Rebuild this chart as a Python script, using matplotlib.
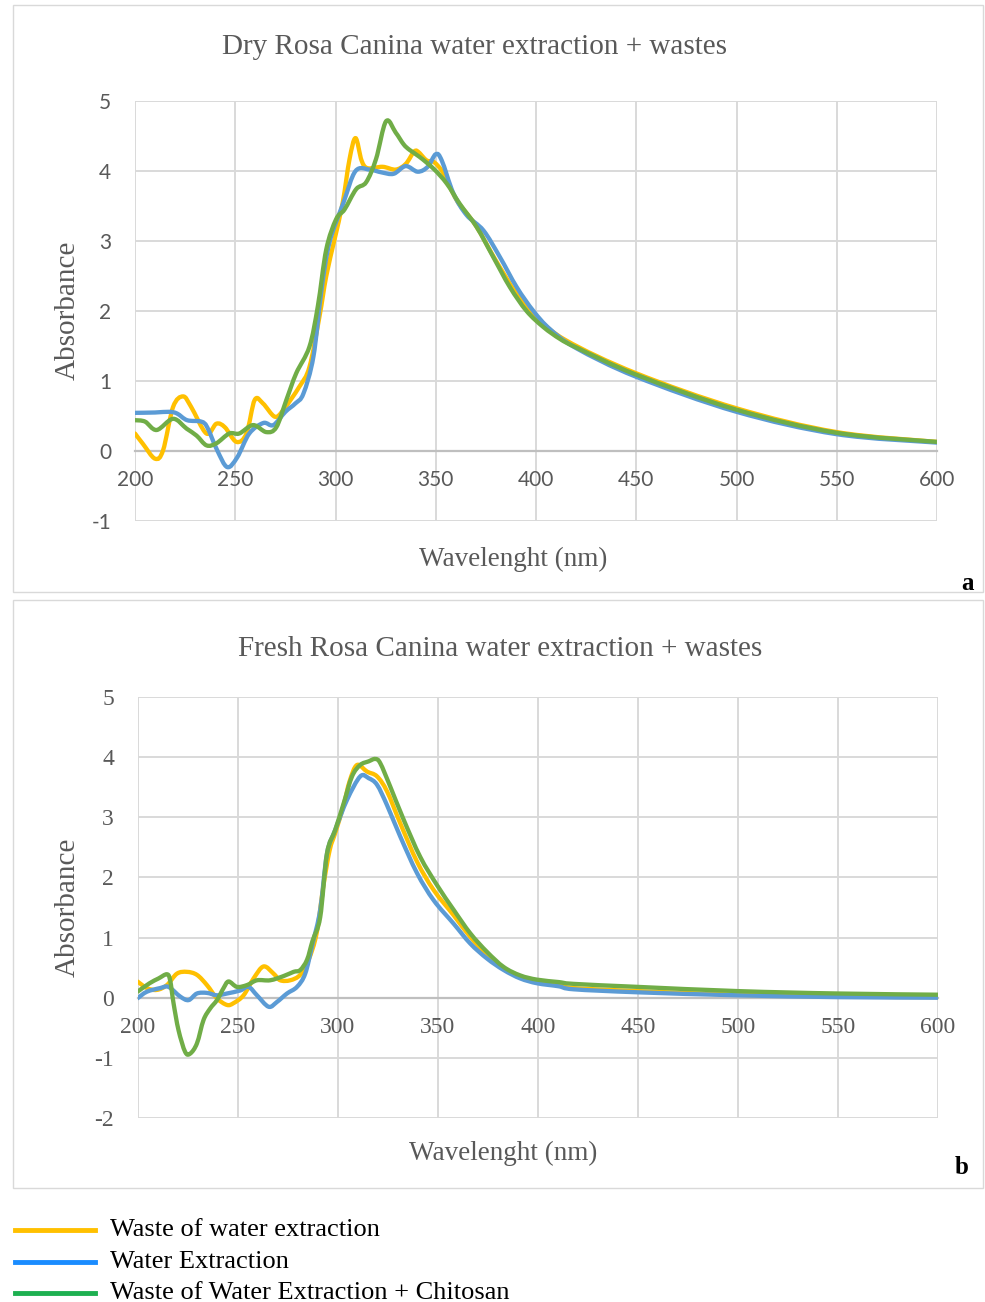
import matplotlib.pyplot as plt
import numpy as np
from matplotlib.patches import Rectangle, PathPatch
from matplotlib.path import Path

# UV-Vis absorbance spectra of Rosa Canina extractions
# (a) dry fruit, (b) fresh fruit

# --- dry Rosa Canina ---
dry_waste_wl = [200, 204, 210, 214, 219, 224, 228, 235.6, 240.6, 244.8, 250.6, 255.6,
                259.7, 263.8, 269.7, 273.8, 282, 287, 292, 295.4, 299.5, 303.6, 307,
                310, 313, 316, 323.5, 330, 335, 339, 341, 345.5, 349, 354, 360.5,
                370, 380, 390, 400, 415, 450, 500, 550, 600]
dry_waste_abs = [0.25, 0.10, -0.11, 0.01, 0.63, 0.78, 0.63, 0.25, 0.39, 0.34, 0.13, 0.25,
                 0.73, 0.68, 0.49, 0.58, 0.92, 1.20, 1.92, 2.50, 3.02, 3.55, 4.17,
                 4.47, 4.15, 4.04, 4.06, 4.02, 4.10, 4.27, 4.28, 4.15, 4.13, 3.96, 3.58,
                 3.22, 2.72, 2.26, 1.92, 1.58, 1.11, 0.61, 0.27, 0.13]

dry_water_wl = [200, 210, 217, 221, 226, 233, 236, 241, 246, 251, 257, 264, 269, 275,
                280, 284, 289, 293, 297, 304, 310, 317, 323, 329, 335, 341, 346, 350,
                353, 358.8, 365.4, 373.8, 382, 390.4, 398.7, 407, 420, 450, 500, 550, 600]
dry_water_abs = [0.545, 0.55, 0.56, 0.535, 0.44, 0.42, 0.34, 0.01, -0.23, -0.09, 0.25,
                 0.40, 0.37, 0.56, 0.68, 0.82, 1.35, 2.30, 2.98, 3.55, 4.00, 4.02, 3.98,
                 3.96, 4.07, 3.99, 4.06, 4.24, 4.15, 3.68, 3.37, 3.15, 2.77, 2.34, 2.00,
                 1.74, 1.47, 1.06, 0.56, 0.24, 0.12]

dry_chit_wl = [200, 205, 210.8, 219, 225.7, 230.7, 235.7, 240.6, 247, 252, 258.9, 265.5,
               270.5, 275.5, 280.4, 287, 291.2, 295.4, 300.3, 304.5, 310.3, 315.3, 320.2,
               325.2, 330, 334, 337, 342, 349, 355.5, 362, 370.4, 378.7, 387, 395.3,
               403.7, 412, 420, 450, 500, 550, 600]
dry_chit_abs = [0.44, 0.42, 0.30, 0.46, 0.32, 0.22, 0.08, 0.11, 0.25, 0.25, 0.37, 0.27,
                0.34, 0.73, 1.11, 1.49, 2.07, 2.88, 3.31, 3.45, 3.74, 3.84, 4.17,
                4.71, 4.55, 4.38, 4.30, 4.20, 4.03, 3.82, 3.53, 3.20, 2.77, 2.34, 2.00,
                1.77, 1.60, 1.48, 1.09, 0.59, 0.26, 0.13]

# --- fresh Rosa Canina ---
fresh_waste_wl = [200, 204.7, 209.7, 214.7, 219.7, 224.7, 229.7, 234.7, 239.7, 244.7, 248,
                  253, 258, 263, 268, 271.3, 276.3, 281.3, 285.5, 289.5, 292.8, 296, 299,
                  303, 306, 309.7, 314.7, 319.7, 324.7, 331.3, 339.7, 348, 358, 366.3,
                  374.7, 383, 391.3, 399.7, 410.5, 418, 450, 500, 550, 600]
fresh_waste_abs = [0.27, 0.16, 0.13, 0.21, 0.40, 0.43, 0.38, 0.21, -0.01, -0.12, -0.09,
                   0.04, 0.32, 0.52, 0.40, 0.29, 0.29, 0.38, 0.63, 1.07, 1.84, 2.45, 2.76,
                   3.20, 3.60, 3.87, 3.76, 3.68, 3.43, 2.90, 2.26, 1.79, 1.37, 1.01,
                   0.71, 0.48, 0.34, 0.26, 0.21, 0.16, 0.11, 0.05, 0.02, 0.01]

fresh_water_wl = [200, 204.7, 211.3, 215.5, 221.3, 225.5, 229.7, 234.7, 239.7, 244.7, 251.3,
                  255.5, 259.7, 265.5, 269.7, 274.7, 279.7, 283.8, 287.5, 291.3, 294.7,
                  298.8, 304.7, 311.3, 315.5, 319.7, 324.7, 331.3, 339.7, 348, 358, 366.3,
                  374.7, 383, 391.3, 399.7, 410.5, 418, 450, 500, 550, 600]
fresh_water_abs = [-0.01, 0.10, 0.16, 0.18, 0.02, -0.04, 0.07, 0.08, 0.04, 0.07, 0.12,
                   0.18, 0.04, -0.15, -0.07, 0.07, 0.18, 0.40, 0.90, 1.46, 2.40,
                   2.79, 3.29, 3.68, 3.65, 3.54, 3.20, 2.68, 2.07, 1.62, 1.23, 0.90,
                   0.65, 0.46, 0.32, 0.24, 0.19, 0.14, 0.09, 0.04, 0.01, 0.0]

fresh_chit_wl = [200, 206, 210.5, 214.7, 216.3, 218, 220.5, 223.8, 226.3, 229.7, 233, 236.3,
                 239.7, 243, 245.5, 249.7, 254.7, 259.7, 266.3, 273, 278, 281.3, 284.7,
                 287.5, 291.3, 294.7, 298.8, 303, 307.2, 311.3, 315.5, 318.8, 321.3, 326.3,
                 333, 341.3, 349.7, 358, 366.3, 374.7, 383, 391.3, 399.7, 410.5, 418, 450,
                 500, 550, 600]
fresh_chit_abs = [0.10, 0.24, 0.32, 0.39, 0.29, -0.09, -0.54, -0.90, -0.93, -0.76, -0.37,
                  -0.18, -0.04, 0.16, 0.27, 0.18, 0.21, 0.29, 0.29, 0.36, 0.43, 0.46, 0.63,
                  0.95, 1.34, 2.40, 2.79, 3.23, 3.68, 3.87, 3.93, 3.97, 3.90, 3.51,
                  2.96, 2.34, 1.87, 1.46, 1.07, 0.76, 0.51, 0.37, 0.30, 0.26, 0.23, 0.18,
                  0.11, 0.07, 0.05]

series_names = ['Waste of water extraction', 'Water Extraction',
                'Waste of Water Extraction + Chitosan']
line_colors = ['#FFC000', '#5B9BD5', '#70AD47']
legend_colors = ['#FFC000', '#1A8CFF', '#1DB050']

plt.rcParams['axes.unicode_minus'] = False
serif = 'Liberation Serif'
grey = '#595959'
W, H = 985, 1302

fig = plt.figure(figsize=(W / 100, H / 100), dpi=100)


def px_axes(x0, y_top, x1, y_bot):
    return fig.add_axes([x0 / W, 1 - y_bot / H, (x1 - x0) / W, (y_bot - y_top) / H])


def style_axes(ax, ymin, tick_font, tick_size):
    ax.set_xlim(200, 600)
    ax.set_ylim(ymin, 5)
    ax.set_xticks(range(200, 601, 50))
    ax.set_yticks(range(ymin, 6))
    ax.grid(True, color='#d9d9d9', linewidth=1.4)
    ax.set_axisbelow(True)
    for s in ['top', 'right', 'left']:
        ax.spines[s].set_visible(False)
    # category axis crosses at zero like the spreadsheet chart
    ax.spines['bottom'].set_position(('data', 0))
    ax.spines['bottom'].set_color('#bfbfbf')
    ax.spines['bottom'].set_linewidth(1.6)
    ax.spines['bottom'].set_zorder(1)
    ax.tick_params(length=0, labelcolor=grey, labelsize=tick_size)
    ax.tick_params(axis='x', pad=14)
    ax.tick_params(axis='y', pad=17)
    for lab in ax.get_xticklabels() + ax.get_yticklabels():
        lab.set_fontfamily(tick_font)


def smooth_path(x, y):
    # smoothed line: cubic Bezier segments through every measured point
    p = np.column_stack([x, y]).astype(float)
    ext = np.vstack([p[0], p, p[-1]])
    verts = [p[0]]
    codes = [Path.MOVETO]
    for i in range(len(p) - 1):
        c1 = ext[i + 1] + (ext[i + 2] - ext[i]) / 6
        c2 = ext[i + 2] - (ext[i + 3] - ext[i + 1]) / 6
        verts += [c1, c2, p[i + 1]]
        codes += [Path.CURVE4] * 3
    return Path(verts, codes)


def draw(ax, wls, vals):
    for wl, ab, c in zip(wls, vals, line_colors):
        ax.add_patch(PathPatch(smooth_path(wl, ab), facecolor='none', edgecolor=c,
                               linewidth=3.1, joinstyle='round', capstyle='round',
                               zorder=3))


# panel frames
for y0, y1 in [(5, 592), (600, 1188)]:
    fig.patches.append(Rectangle((13 / W, 1 - y1 / H), (983 - 13) / W, (y1 - y0) / H,
                                 transform=fig.transFigure, fill=False,
                                 edgecolor='#d9d9d9', linewidth=1))

# (a) dry
ax1 = px_axes(135, 101, 937, 521)
draw(ax1, [dry_waste_wl, dry_water_wl, dry_chit_wl],
     [dry_waste_abs, dry_water_abs, dry_chit_abs])
style_axes(ax1, -1, 'Lato', 15)
fig.text(475 / W, 1 - 47 / H, 'Dry Rosa Canina water extraction + wastes',
         ha='center', va='center', fontsize=21, family=serif, color=grey)
fig.text(68 / W, 1 - 310 / H, 'Absorbance', rotation=90, ha='center', va='center',
         fontsize=21, family=serif, color=grey)
fig.text(513 / W, 1 - 559 / H, 'Wavelenght (nm)', ha='center', va='center',
         fontsize=19.5, family=serif, color=grey)
fig.text(968 / W, 1 - 584 / H, 'a', ha='center', va='center', fontsize=18,
         family=serif, weight='bold', color='black')

# (b) fresh
ax2 = px_axes(137.5, 697, 938, 1118)
draw(ax2, [fresh_waste_wl, fresh_water_wl, fresh_chit_wl],
     [fresh_waste_abs, fresh_water_abs, fresh_chit_abs])
style_axes(ax2, -2, serif, 17)
fig.text(500 / W, 1 - 649 / H, 'Fresh Rosa Canina water extraction + wastes',
         ha='center', va='center', fontsize=21, family=serif, color=grey)
fig.text(68 / W, 1 - 907 / H, 'Absorbance', rotation=90, ha='center', va='center',
         fontsize=21, family=serif, color=grey)
fig.text(503 / W, 1 - 1153 / H, 'Wavelenght (nm)', ha='center', va='center',
         fontsize=19.5, family=serif, color=grey)
fig.text(962 / W, 1 - 1167 / H, 'b', ha='center', va='center', fontsize=18,
         family=serif, weight='bold', color='black')

# legend drawn by hand under the panels
for i, (name, c) in enumerate(zip(series_names, legend_colors)):
    y = 1 - (1230 + 31.5 * i) / H
    fig.add_artist(plt.Line2D([15 / W, 95 / W], [y, y], color=c, linewidth=3.5,
                              transform=fig.transFigure))
    fig.text(110 / W, y, name, ha='left', va='center', fontsize=19, family=serif,
             color='black')

fig.savefig('out.png', dpi=100)
